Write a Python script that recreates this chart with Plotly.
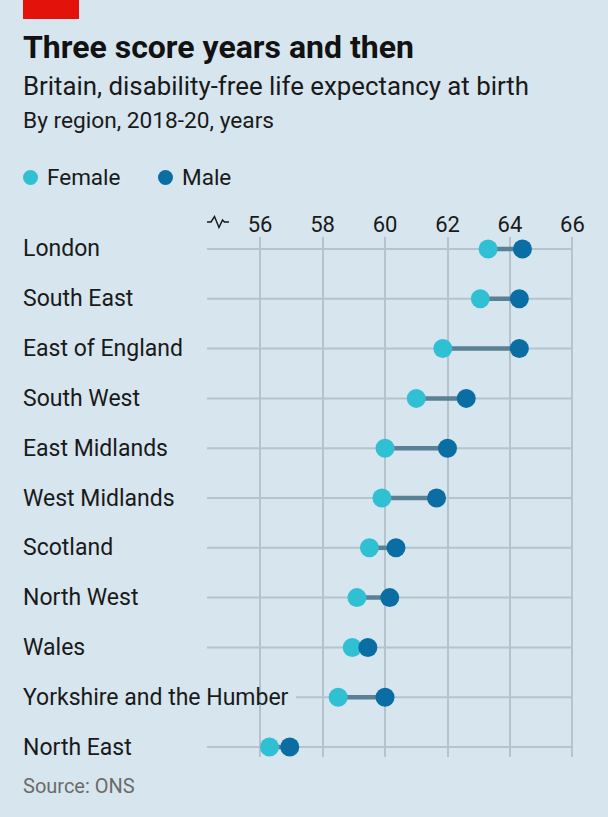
import plotly.graph_objects as go

# ---- data ----
regions = ["London", "South East", "East of England", "South West", "East Midlands",
           "West Midlands", "Scotland", "North West", "Wales",
           "Yorkshire and the Humber", "North East"]
female = [63.3, 63.05, 61.85, 61.0, 60.0, 59.9, 59.5, 59.1, 58.95, 58.5, 56.3]
male = [64.4, 64.3, 64.3, 62.6, 62.0, 61.65, 60.35, 60.15, 59.45, 60.0, 56.95]
x_ticks = [56, 58, 60, 62, 64, 66]
x_tick_labels = ["56", "58", "60", "62", "64", "66"]

# ---- style ----
BG = "#d7e5ee"
FEMALE_C = "#30c0d4"
MALE_C = "#0a6da3"
CONN_C = "#5b7f93"
GRID_C = "#b4c3cc"
TEXT_C = "#1a1a1a"
FONT = "Roboto"

W, H = 608, 817
L, R, T, B = 207, 34, 237, 60
x_range = [54.3, 66.05]
n = len(regions)
y_idx = list(range(n))
y_range = [n - 1 + 0.2, -0.24]

def px_x(px):
    return (px - L) / (W - L - R)

def px_y(py):
    return (H - B - py) / (H - T - B)

fig = go.Figure()

# connectors
cx, cy = [], []
for i, (f, m) in enumerate(zip(female, male)):
    cx += [f, m, None]
    cy += [i, i, None]
fig.add_trace(go.Scatter(x=cx, y=cy, mode="lines",
                         line=dict(color=CONN_C, width=4.5),
                         hoverinfo="skip", showlegend=False))
fig.add_trace(go.Scatter(x=female, y=y_idx, mode="markers", name="Female",
                         marker=dict(color=FEMALE_C, size=19, line=dict(width=0)),
                         showlegend=False))
fig.add_trace(go.Scatter(x=male, y=y_idx, mode="markers", name="Male",
                         marker=dict(color=MALE_C, size=19, line=dict(width=0)),
                         showlegend=False))

shapes = []
# horizontal row lines (the long label row starts after its text)
line_start = {"Yorkshire and the Humber": 57.15}
for i, r in enumerate(regions):
    shapes.append(dict(type="line", xref="x", yref="y", layer="below",
                       x0=line_start.get(r, x_range[0]), x1=66, y0=i, y1=i,
                       line=dict(color=GRID_C, width=2)))

# red tag
shapes.append(dict(type="rect", xref="paper", yref="paper",
                   x0=px_x(23), x1=px_x(79), y0=px_y(19), y1=px_y(0),
                   fillcolor="#e3120b", line=dict(width=0)))

# axis break symbol
pts = [(207, 222), (211, 222), (214.5, 216.5), (219, 227.5), (222.5, 220), (224.5, 222), (229, 222)]
path = "M " + " L ".join(f"{px_x(a):.5f},{px_y(b):.5f}" for a, b in pts)
shapes.append(dict(type="path", xref="paper", yref="paper", path=path,
                   line=dict(color=TEXT_C, width=1.5)))

# legend dots
for cxp, col in [(30.5, FEMALE_C), (165.5, MALE_C)]:
    shapes.append(dict(type="circle", xref="paper", yref="paper",
                       xsizemode="pixel", ysizemode="pixel",
                       xanchor=px_x(cxp), yanchor=px_y(177.5),
                       x0=-7.5, x1=7.5, y0=-7.5, y1=7.5,
                       fillcolor=col, line=dict(width=0)))

annotations = []
def txt(text, x, y, size, color=TEXT_C, bold=False, yanchor="middle"):
    annotations.append(dict(text=f"<b>{text}</b>" if bold else text,
                            xref="paper", yref="paper", x=px_x(x), y=px_y(y),
                            xanchor="left", yanchor=yanchor, showarrow=False,
                            font=dict(family=FONT, size=size, color=color)))

txt("Three score years and then", 21, 47, 32, color="#121212", bold=True)
txt("Britain, disability-free life expectancy at birth", 21, 86, 25.8)
txt("By region, 2018-20, years", 21, 121, 22.7)
txt("Female", 45, 177, 22.5)
txt("Male", 180, 177, 22.5)
txt("Source: ONS", 21, 786, 20, color="#6b6b6b")

for i, r in enumerate(regions):
    annotations.append(dict(text=r, xref="paper", yref="y", x=px_x(21), y=i,
                            xanchor="left", yanchor="middle", showarrow=False,
                            font=dict(family=FONT, size=23, color=TEXT_C)))

fig.update_layout(
    width=W, height=H, autosize=False,
    margin=dict(l=L, r=R, t=T, b=B, pad=0),
    paper_bgcolor=BG, plot_bgcolor=BG,
    shapes=shapes, annotations=annotations,
    xaxis=dict(range=x_range, side="top", tickvals=x_ticks, ticktext=x_tick_labels,
               showgrid=True, gridcolor=GRID_C, gridwidth=2, zeroline=False,
               showline=False, ticks="", tickfont=dict(family=FONT, size=22, color=TEXT_C),
               fixedrange=True),
    yaxis=dict(range=y_range, showgrid=False, zeroline=False, showticklabels=False,
               showline=False, fixedrange=True),
    showlegend=False,
)

fig.write_html("out.html", config={"displayModeBar": False})

# remove the default page margin so the figure sits at the window's top-left
with open("out.html", "r", encoding="utf-8") as fh:
    html = fh.read()
html = html.replace("<body>", '<body style="margin:0;padding:0;">', 1)
with open("out.html", "w", encoding="utf-8") as fh:
    fh.write(html)
